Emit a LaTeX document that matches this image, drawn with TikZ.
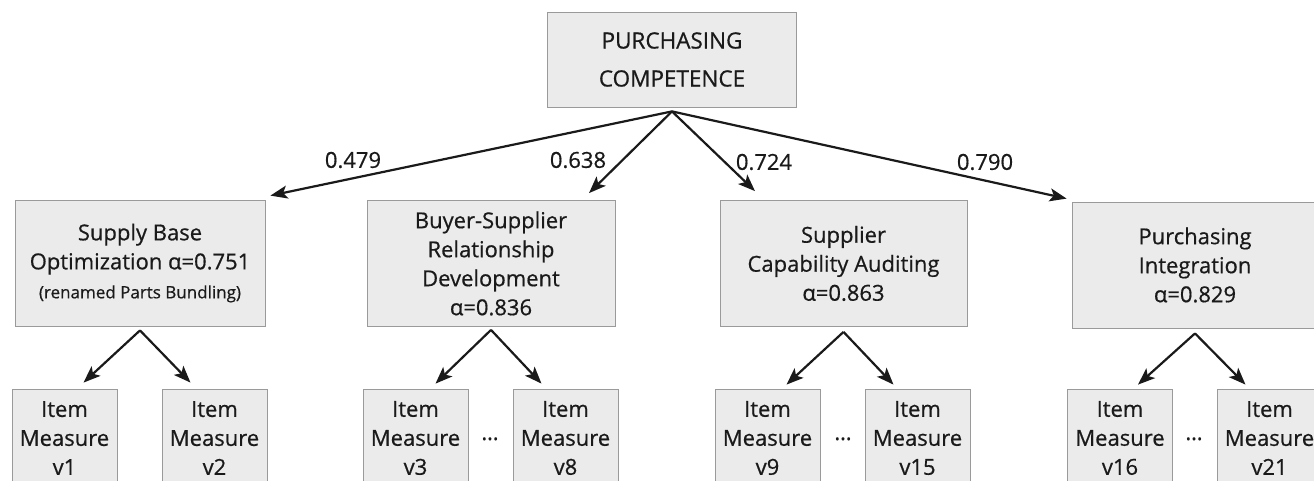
\documentclass[tikz,border=0pt]{standalone}
\usepackage{fontspec}
\setmainfont{Open Sans}[FakeBold=0.6]
\usetikzlibrary{arrows.meta}
\definecolor{boxfill}{HTML}{EBEBEB}
\definecolor{boxline}{HTML}{9A9A9A}
\definecolor{ink}{HTML}{1A1A1A}
\tikzset{
  box/.style={draw=boxline, line width=0.8pt, fill=boxfill, align=center, inner sep=0pt, text=ink, font=\fontsize{22}{29}\selectfont},
  topbox/.style={box, minimum width=249pt, minimum height=95pt, font=\fontsize{22.5}{38}\selectfont},
  factor/.style={box, minimum width=248pt, minimum height=126pt},
  itembox/.style={box, minimum width=105pt, minimum height=98pt},
  arr/.style={draw=ink, line width=2.2pt, -{Stealth[length=17pt,width=13pt,inset=4pt]}},
  lbl/.style={text=ink, font=\fontsize{22}{26}\selectfont, inner sep=0pt},
  dotsnode/.style={text=ink, font=\fontsize{22}{26}\selectfont, inner sep=0pt, anchor=base}
}
\begin{document}
\begin{tikzpicture}[x=1pt,y=-1pt]
\path[use as bounding box, clip] (0,0) rectangle (1314,480);
\fill[white] (0,0) rectangle (1314,480);

\node[topbox] (top) at (672,59.5) {PURCHASING\\COMPETENCE};

\node[factor, minimum width=250pt] (b1) at (140,263) {Supply Base\\Optimization α=0.751\\{\fontsize{17}{29}\selectfont (renamed Parts Bundling)}};
\node[factor] (b2) at (491,263.5) {Buyer-Supplier\\Relationship\\Development\\α=0.836};
\node[factor, minimum width=247pt] (b3) at (843.5,263.5) {Supplier\\Capability Auditing\\α=0.863};
\node[factor, minimum width=246pt] (b4) at (1195,265) {Purchasing\\Integration\\α=0.829};

\node[itembox] (v1) at (64.5,438) {Item\\Measure\\v1};
\node[itembox] (v2) at (214.5,438) {Item\\Measure\\v2};
\node[itembox] (v3) at (415.5,438) {Item\\Measure\\v3};
\node[itembox] (v8) at (565.5,438) {Item\\Measure\\v8};
\node[itembox] (v9) at (767.5,438) {Item\\Measure\\v9};
\node[itembox] (v15) at (917.5,438) {Item\\Measure\\v15};
\node[itembox] (v16) at (1120,438) {Item\\Measure\\v16};
\node[itembox] (v21) at (1269.5,438) {Item\\Measure\\v21};

\node[dotsnode] (d1) at (490,440) {…};
\node[dotsnode] (d2) at (843,440) {…};
\node[dotsnode] (d3) at (1194,440) {…};

\coordinate (apex) at ([yshift=-4pt]top.south);
\draw[arr] (apex) -- ([xshift=5pt,yshift=4pt]b1.north east);
\draw[arr] (apex) -- ([xshift=98pt,yshift=7pt]b2.north);
\draw[arr] (apex) -- ([xshift=-88.5pt,yshift=9pt]b3.north);
\draw[arr] (apex) -- ([xshift=-5pt,yshift=3pt]b4.north west);

\node[lbl] (l1) at (353,160) {0.479};
\node[lbl] (l2) at (578,160) {0.638};
\node[lbl] (l3) at (764,162) {0.724};
\node[lbl] (l4) at (985,162) {0.790};

\draw[arr] ([yshift=-4pt]b1.south) -- ([xshift=19pt,yshift=6pt]v1.north);
\draw[arr] ([yshift=-4pt]b1.south) -- ([xshift=-24pt,yshift=6pt]v2.north);
\draw[arr] ([yshift=-3pt]b2.south) -- ([xshift=20pt,yshift=5pt]v3.north);
\draw[arr] ([yshift=-3pt]b2.south) -- ([xshift=-24pt,yshift=5pt]v8.north);
\draw[arr] ([yshift=-5pt]b3.south) -- ([xshift=19pt,yshift=4pt]v9.north);
\draw[arr] ([yshift=-5pt]b3.south) -- ([xshift=-24pt,yshift=4pt]v15.north);
\draw[arr] ([yshift=-5pt]b4.south) -- ([xshift=18pt,yshift=4pt]v16.north);
\draw[arr] ([yshift=-5pt]b4.south) -- ([xshift=-24pt,yshift=4pt]v21.north);
\end{tikzpicture}
\end{document}
